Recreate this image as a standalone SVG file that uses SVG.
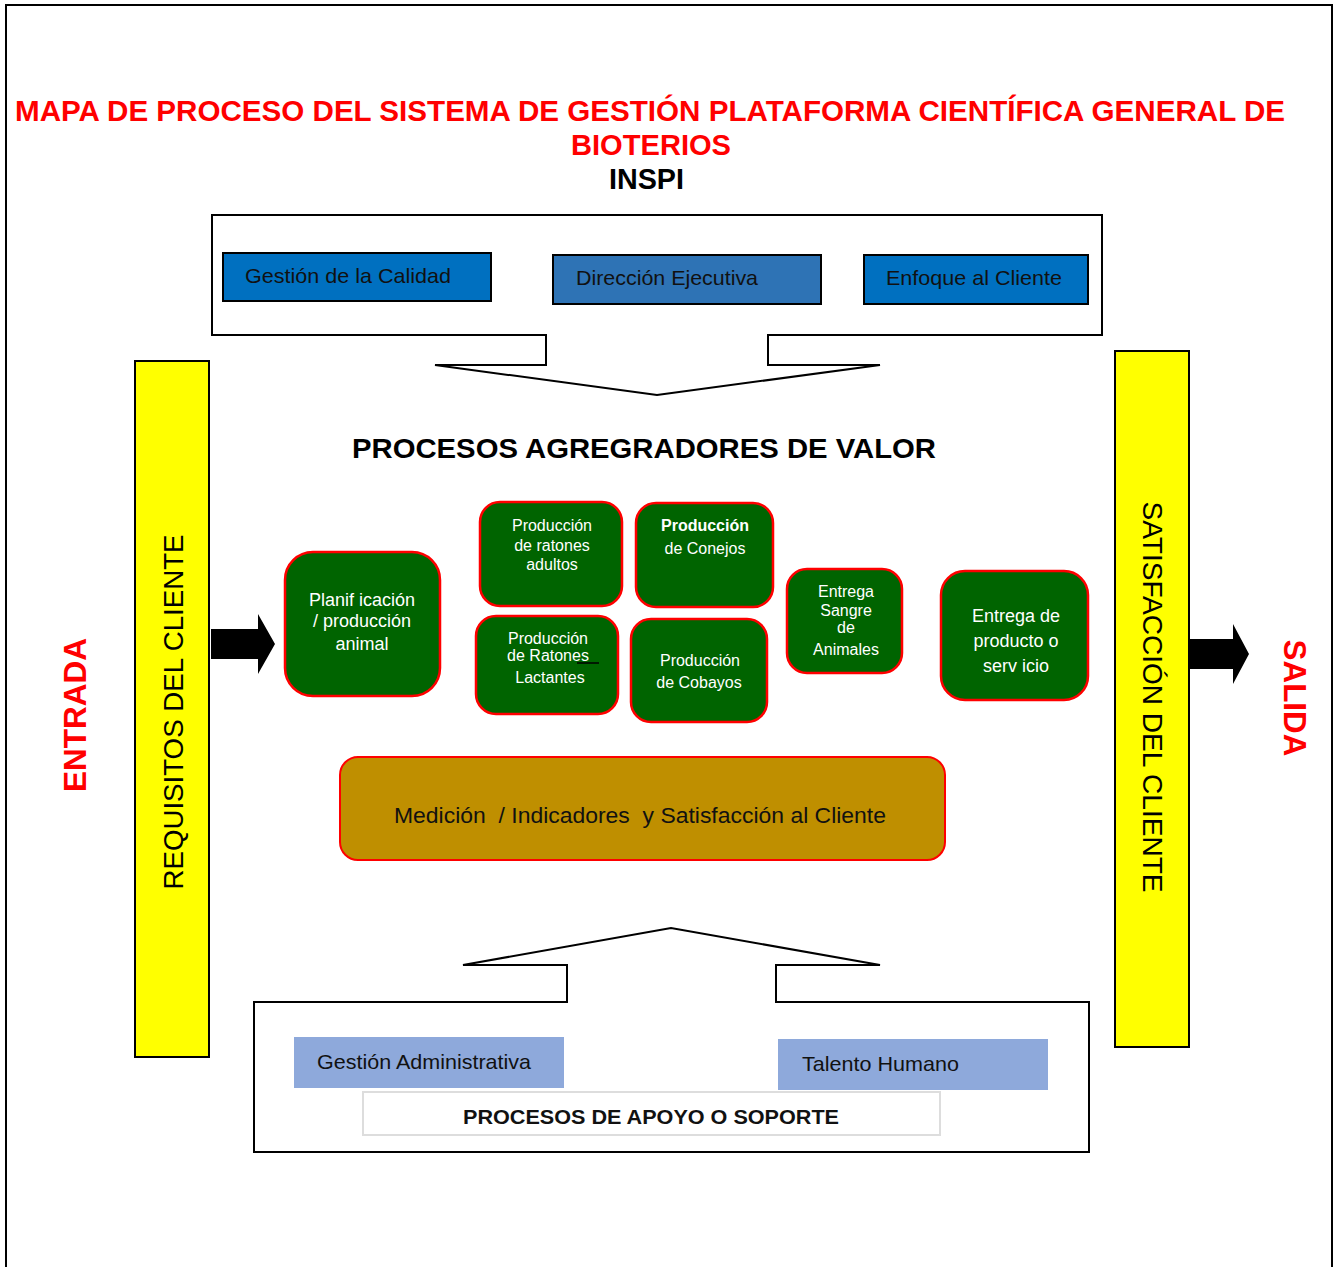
<svg xmlns="http://www.w3.org/2000/svg" width="1340" height="1267" viewBox="0 0 1340 1267">
<style>
text{font-family:"Liberation Sans",Arial,sans-serif}
.title{font-weight:bold;fill:#ff0000}
.frame{fill:#fff;stroke:#000;stroke-width:2}
.blue{stroke:#000;stroke-width:2}
.btxt{font-size:21px;fill:#111}
.green{fill:#006400;stroke:#ff0000;stroke-width:2.5}
.gtxt{fill:#fff;text-anchor:middle}
.yellow{fill:#ffff00;stroke:#000;stroke-width:2}
.ytxt{font-size:27px;fill:#000;text-anchor:middle}
.side{font-size:31px;font-weight:bold;fill:#ff0000;text-anchor:middle}
.light{fill:#8EA9DB}
.pre{white-space:pre}
</style>
<rect x="0" y="0" width="1340" height="1267" fill="#fff"/>
<path d="M6,1267 V5 H1332 V1267" fill="none" stroke="#000" stroke-width="2"/>

<g id="title">
<text class="title" x="15" y="121" font-size="29" textLength="1270" lengthAdjust="spacingAndGlyphs">MAPA DE PROCESO DEL SISTEMA DE GESTIÓN PLATAFORMA CIENTÍFICA GENERAL DE</text>
<text class="title" x="571" y="155" font-size="29" textLength="160" lengthAdjust="spacingAndGlyphs">BIOTERIOS</text>
<text x="609" y="189" font-size="29" font-weight="bold" fill="#000" textLength="75" lengthAdjust="spacingAndGlyphs">INSPI</text>
</g>

<g id="estrategicos">
<path class="frame" d="M212,215 H1102 V335 H768 V365 H880 L657,395 L435,365 H546 V335 H212 Z"/>
</g>
<g id="gestion-calidad">
<rect class="blue" x="223" y="253" width="268" height="48" fill="#0070C0"/>
<text class="btxt" x="245" y="283" textLength="206" lengthAdjust="spacingAndGlyphs">Gestión de la Calidad</text>
</g>
<g id="direccion-ejecutiva">
<rect class="blue" x="553" y="255" width="268" height="49" fill="#2E73B5"/>
<text class="btxt" x="576" y="285" textLength="182" lengthAdjust="spacingAndGlyphs">Dirección Ejecutiva</text>
</g>
<g id="enfoque-cliente">
<rect class="blue" x="864" y="255" width="224" height="49" fill="#0070C0"/>
<text class="btxt" x="886" y="285" textLength="176" lengthAdjust="spacingAndGlyphs">Enfoque al Cliente</text>
</g>

<g id="procesos-valor-label">
<text x="352" y="458" font-size="28" font-weight="bold" fill="#000" textLength="584" lengthAdjust="spacingAndGlyphs">PROCESOS AGREGRADORES DE VALOR</text>
</g>

<g id="requisitos">
<rect class="yellow" x="135" y="361" width="74" height="696"/>
<text class="ytxt" transform="translate(183,712) rotate(-90)" textLength="355" lengthAdjust="spacingAndGlyphs">REQUISITOS DEL CLIENTE</text>
</g>
<g id="satisfaccion">
<rect class="yellow" x="1115" y="351" width="74" height="696"/>
<text class="ytxt" transform="translate(1143,697) rotate(90)" textLength="391" lengthAdjust="spacingAndGlyphs">SATISFACCIÓN DEL CLIENTE</text>
</g>
<g id="entrada">
<text class="side" transform="translate(86,715) rotate(-90)" textLength="154" lengthAdjust="spacingAndGlyphs">ENTRADA</text>
</g>
<g id="salida">
<text class="side" transform="translate(1284,698) rotate(90)" textLength="117" lengthAdjust="spacingAndGlyphs">SALIDA</text>
</g>

<g id="connectors">
<path d="M211,629 H258 V614 L275,644 L258,674 V659 H211 Z" fill="#000"/>
<path d="M1190,639 H1233 V624 L1249,654 L1233,684 V669 H1190 Z" fill="#000"/>
</g>

<g id="planificacion">
<rect class="green" x="285" y="552" width="155" height="144" rx="28"/>
<text class="gtxt" font-size="18"><tspan x="362" y="606">Planif icación</tspan><tspan x="362" y="627">/ producción</tspan><tspan x="362" y="650">animal</tspan></text>
</g>
<g id="ratones-adultos">
<rect class="green" x="480" y="502" width="142" height="104" rx="20"/>
<text class="gtxt" font-size="16"><tspan x="552" y="531">Producción</tspan><tspan x="552" y="551">de ratones</tspan><tspan x="552" y="570">adultos</tspan></text>
</g>
<g id="conejos">
<rect class="green" x="636" y="503" width="137" height="104" rx="20"/>
<text class="gtxt" font-size="16"><tspan x="705" y="531" font-weight="bold">Producción</tspan><tspan x="705" y="554">de Conejos</tspan></text>
</g>
<g id="ratones-lactantes">
<rect class="green" x="476" y="616" width="142" height="98" rx="20"/>
<text class="gtxt" font-size="16"><tspan x="548" y="644">Producción</tspan><tspan x="548" y="661">de Ratones</tspan><tspan x="550" y="683">Lactantes</tspan></text>
<line x1="577" y1="663" x2="599" y2="663" stroke="#000" stroke-width="1.5"/>
</g>
<g id="cobayos">
<rect class="green" x="631" y="619" width="136" height="103" rx="20"/>
<text class="gtxt" font-size="16"><tspan x="700" y="666">Producción</tspan><tspan x="699" y="688">de Cobayos</tspan></text>
</g>
<g id="entrega-sangre">
<rect class="green" x="787" y="569" width="115" height="104" rx="20"/>
<text class="gtxt" font-size="16"><tspan x="846" y="597">Entrega</tspan><tspan x="846" y="616">Sangre</tspan><tspan x="846" y="633">de</tspan><tspan x="846" y="655">Animales</tspan></text>
</g>
<g id="entrega-producto">
<rect class="green" x="941" y="571" width="147" height="129" rx="24"/>
<text class="gtxt" font-size="18"><tspan x="1016" y="622">Entrega de</tspan><tspan x="1016" y="647">producto o</tspan><tspan x="1016" y="672">serv icio</tspan></text>
</g>

<g id="medicion">
<rect x="340" y="757" width="605" height="103" rx="18" fill="#BF8F00" stroke="#ff0000" stroke-width="2"/>
<text class="pre" x="394" y="823" font-size="22" fill="#111" textLength="492" lengthAdjust="spacingAndGlyphs">Medición  / Indicadores  y Satisfacción al Cliente</text>
</g>

<g id="apoyo">
<path class="frame" d="M254,1002 H567 V965 H463 L671,928 L880,965 H776 V1002 H1089 V1152 H254 Z"/>
</g>
<g id="gestion-administrativa">
<rect class="light" x="294" y="1037" width="270" height="51"/>
<text class="btxt" x="317" y="1069" textLength="214" lengthAdjust="spacingAndGlyphs">Gestión Administrativa</text>
</g>
<g id="talento-humano">
<rect class="light" x="778" y="1039" width="270" height="51"/>
<text class="btxt" x="802" y="1071" textLength="157" lengthAdjust="spacingAndGlyphs">Talento Humano</text>
</g>
<g id="procesos-apoyo-label">
<rect x="363" y="1092" width="577" height="43" fill="#fff" stroke="#ddd" stroke-width="2"/>
<text x="463" y="1124" font-size="20" font-weight="bold" fill="#111" textLength="376" lengthAdjust="spacingAndGlyphs">PROCESOS DE APOYO O SOPORTE</text>
</g>
</svg>
